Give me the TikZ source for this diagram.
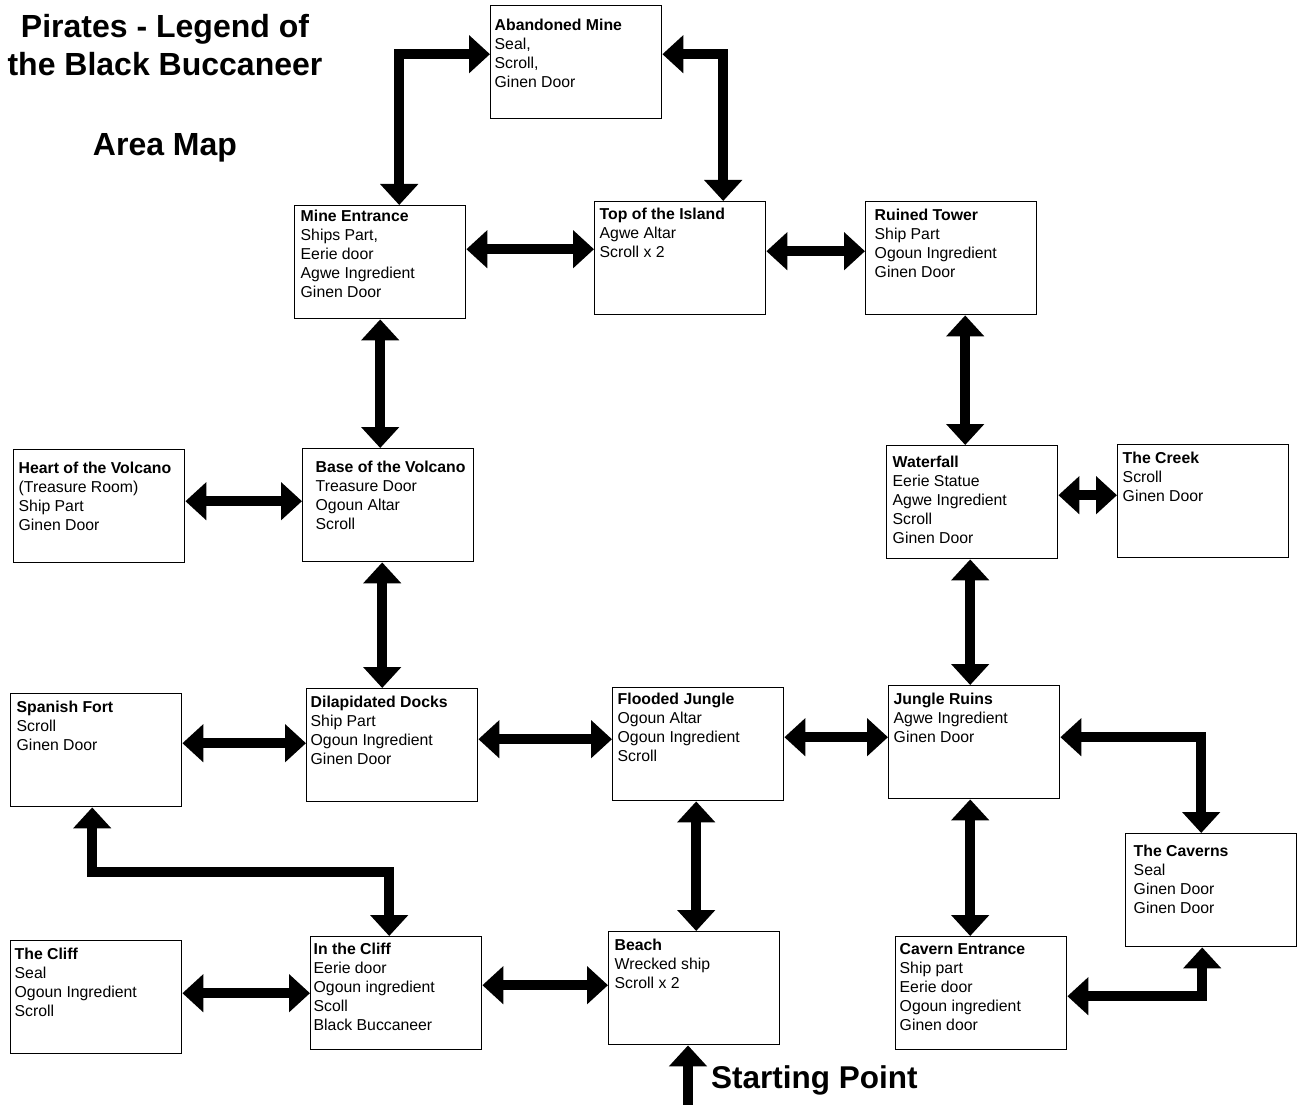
\documentclass[tikz,border=0pt]{standalone}
\usepackage{fontspec}
\setmainfont{Liberation Sans}
\usetikzlibrary{arrows.meta}
\tikzset{
  area/.style={draw, line width=1.4pt, anchor=north west, inner sep=0pt, font=\fontsize{15.8}{19}\selectfont},
  link/.style={{Triangle[width=37pt,length=21pt]}-{Triangle[width=37pt,length=21pt]}, line width=9.5pt},
  onelink/.style={-{Triangle[width=37pt,length=21pt]}, line width=9.5pt},
  bigtext/.style={font=\bfseries\fontsize{32}{38}\selectfont, align=center, inner sep=0pt},
}
\newcommand{\room}[4]{\parbox[t][113pt][t]{171pt}{\leftskip=#1pt\vspace*{#2pt}\textbf{#3}\\#4}}
\begin{document}
\begin{tikzpicture}[x=1pt, y=-1pt]
  \useasboundingbox (0,0) rectangle (1299,1105);
  \node[bigtext, anchor=north] (name) at (165,14) {Pirates - Legend of\\the Black Buccaneer};
  \node[bigtext, anchor=north, font=\bfseries\fontsize{32}{38}\selectfont] (map) at (165,133) {Area Map};
  \node[area] (am) at (490,5) {\room{4}{13}{Abandoned Mine}{Seal,\\Scroll,\\Ginen Door}};
  \node[area] (me) at (294,205) {\room{6}{4}{Mine Entrance}{Ships Part,\\Eerie door\\Agwe Ingredient\\Ginen Door}};
  \node[area] (top) at (594,201) {\room{5}{6}{Top of the Island}{Agwe Altar\\Scroll x 2}};
  \node[area] (rt) at (865,201) {\room{9}{7}{Ruined Tower}{Ship Part\\Ogoun Ingredient\\Ginen Door}};
  \node[area] (hv) at (13,449) {\room{5}{12}{Heart of the Volcano}{(Treasure Room)\\Ship Part\\Ginen Door}};
  \node[area] (bv) at (302,448) {\room{13}{12}{Base of the Volcano}{Treasure Door\\Ogoun Altar\\Scroll}};
  \node[area] (wf) at (886,445) {\room{6}{10}{Waterfall}{Eerie Statue\\Agwe Ingredient\\Scroll\\Ginen Door}};
  \node[area] (cr) at (1117,444) {\room{5}{7}{The Creek}{Scroll\\Ginen Door}};
  \node[area] (sf) at (10,693) {\room{6}{7}{Spanish Fort}{Scroll\\Ginen Door}};
  \node[area] (dd) at (306,688) {\room{4}{7}{Dilapidated Docks}{Ship Part\\Ogoun Ingredient\\Ginen Door}};
  \node[area] (fj) at (612,687) {\room{5}{5}{Flooded Jungle}{Ogoun Altar\\Ogoun Ingredient\\Scroll}};
  \node[area] (jr) at (888,685) {\room{5}{7}{Jungle Ruins}{Agwe Ingredient\\Ginen Door}};
  \node[area] (cv) at (1125,833) {\room{8}{11}{The Caverns}{Seal\\Ginen Door\\Ginen Door}};
  \node[area] (cl) at (10,940) {\room{4}{7}{The Cliff}{Seal\\Ogoun Ingredient\\Scroll}};
  \node[area] (ic) at (310,936) {\room{3}{6}{In the Cliff}{Eerie door\\Ogoun ingredient\\Scoll\\Black Buccaneer}};
  \node[area] (be) at (608,931) {\room{6}{7}{Beach}{Wrecked ship\\Scroll x 2}};
  \node[area] (ce) at (895,936) {\room{4}{7}{Cavern Entrance}{Ship part\\Eerie door\\Ogoun ingredient\\Ginen door}};
  \node[font=\bfseries\fontsize{31.5}{36}\selectfont, anchor=base west, inner sep=0pt] (sp) at (711,1088) {Starting Point};
  \coordinate (start) at (688,1105);

  \draw[link] ([xshift=19pt]me.north) |- ([yshift=8pt]am.west);
  \draw[link] ([yshift=8pt]am.east) -| ([xshift=43pt]top.north);
  \draw[link] ([yshift=13pt]me.east) -- ([yshift=13pt]me.east -| top.west);
  \draw[link] ([yshift=7pt]top.east) -- ([yshift=7pt]top.east -| rt.west);
  \draw[link] (me.south) -- (me.south |- bv.north);
  \draw[link] ([yshift=5pt]hv.east) -- ([yshift=5pt]hv.east -| bv.west);
  \draw[link] ([xshift=-6pt]bv.south) -- ([xshift=-6pt]bv.south |- dd.north);
  \draw[link] ([xshift=14pt]rt.south) -- ([xshift=14pt]rt.south |- wf.north);
  \draw[link] ([yshift=7pt]wf.east) -- ([yshift=7pt]wf.east -| cr.west);
  \draw[link] ([xshift=-2pt]wf.south) -- ([xshift=-2pt]wf.south |- jr.north);
  \draw[link] ([yshift=7pt]sf.east) -- ([yshift=7pt]sf.east -| dd.west);
  \draw[link] ([yshift=6pt]dd.east) -- ([yshift=6pt]dd.east -| fj.west);
  \draw[link] ([yshift=7pt]fj.east) -- ([yshift=7pt]fj.east -| jr.west);
  \draw[link] ([yshift=5pt]jr.east) -| ([xshift=-10pt]cv.north);
  \draw[link] ([xshift=-2pt]fj.south) -- ([xshift=-2pt]fj.south |- be.north);
  \draw[link] ([xshift=-4pt]jr.south) -- ([xshift=-4pt]jr.south |- ce.north);
  \draw[link] ([xshift=-7pt]ic.north) -- ++(0,-64) -| ([xshift=-4pt]sf.south);
  \draw[link] ([yshift=4pt]cl.east) -- ([yshift=4pt]cl.east -| ic.west);
  \draw[link] ([yshift=8pt]ic.east) -- ([yshift=8pt]ic.east -| be.west);
  \draw[link] ([yshift=-3pt]ce.east) -| ([xshift=-9pt]cv.south);
  \draw[onelink] (start) -- (start |- be.south);
\end{tikzpicture}
\end{document}
